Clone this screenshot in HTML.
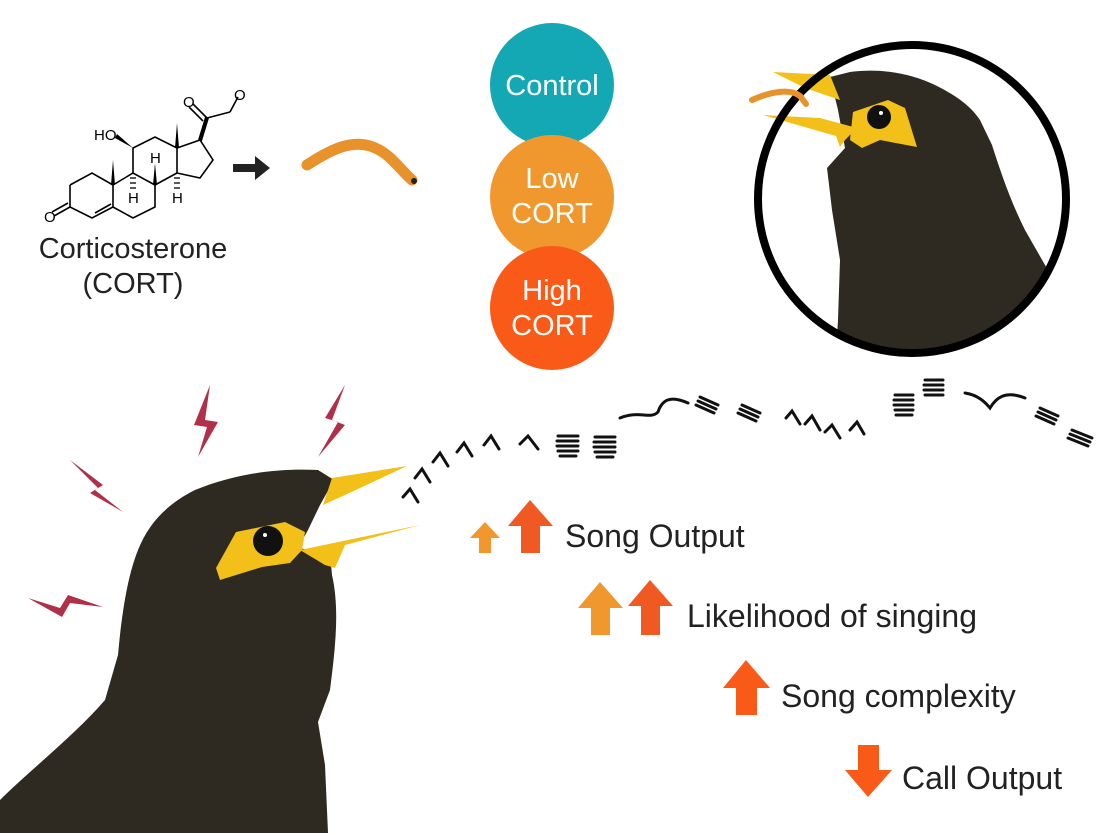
<!DOCTYPE html>
<html><head><meta charset="utf-8"><style>
html,body{margin:0;padding:0;background:#fff;}
body{width:1112px;height:833px;overflow:hidden;position:relative;font-family:"Liberation Sans",sans-serif;}
svg{position:absolute;left:0;top:0;}
</style></head><body>
<svg width="1112" height="833" viewBox="0 0 1112 833" xmlns="http://www.w3.org/2000/svg">
<defs><clipPath id="cc"><circle cx="912" cy="199" r="154"/></clipPath></defs>
<!-- molecule -->
<g stroke="#000" stroke-width="1.6" fill="none">
<polyline points="70,185 92,173 113,185 113,207 92,218 70,207 70,185"/>
<line x1="95" y1="213" x2="111" y2="204"/>
<line x1="70" y1="207" x2="54" y2="216"/><line x1="68" y1="203" x2="52" y2="212"/>
<polyline points="113,185 133,173 155,185 155,207 133,218 113,207"/>
<polyline points="133,173 133,148 155,137 177,148 177,173 155,185"/>
<polyline points="177,148 200,140 213,160 200,178 177,173"/>
<line x1="207" y1="118" x2="230" y2="112"/><line x1="230" y1="112" x2="238" y2="97"/>
<line x1="207" y1="118" x2="193" y2="104"/><line x1="203" y1="121" x2="189" y2="107"/>
</g>
<g fill="#000">
<polygon points="111,185 115,185 113,160"/>
<polygon points="175,148 179,148 177,123"/>
<polygon points="198,140 202,141 209,118 205,117"/>
<polygon points="133,148 115,138 117,134"/>
<polygon points="153,185 157,185 155,163"/>
</g>
<g stroke="#000" stroke-width="1.3">
<line x1="130" y1="178" x2="136" y2="178"/><line x1="130" y1="183" x2="136" y2="183"/><line x1="130" y1="188" x2="136" y2="188"/>
<line x1="174" y1="178" x2="180" y2="178"/><line x1="174" y1="183" x2="180" y2="183"/><line x1="174" y1="188" x2="180" y2="188"/>
</g>
<g font-size="15" fill="#000" font-family="Liberation Sans,sans-serif">
<text x="94" y="140">HO</text>
<text x="150" y="163">H</text>
<text x="128" y="203">H</text>
<text x="172" y="203">H</text>
<text x="44" y="222">O</text>
<text x="183" y="107">O</text>
<text x="234" y="100">O</text>
</g>
<text x="133" y="258" font-size="29" text-anchor="middle" fill="#222">Corticosterone</text>
<text x="133" y="293" font-size="29" text-anchor="middle" fill="#222">(CORT)</text>
<!-- black arrow -->
<polygon points="233,164 255,164 255,156 270,168 255,180 255,172 233,172" fill="#222"/>
<!-- worm -->
<path d="M307,165 C330,150 350,140 370,146 C390,152 400,170 412,180" stroke="#e8922c" stroke-width="11" fill="none" stroke-linecap="round"/>
<circle cx="414" cy="181" r="3" fill="#222"/>
<!-- circles -->
<circle cx="552" cy="85" r="62" fill="#14a8b5"/>
<circle cx="552" cy="197" r="62" fill="#f0982e"/>
<circle cx="552" cy="308" r="62" fill="#fa5a18"/>
<g fill="#fff" font-size="29" text-anchor="middle">
<text x="552" y="95">Control</text>
<text x="552" y="188">Low</text>
<text x="552" y="223">CORT</text>
<text x="552" y="300">High</text>
<text x="552" y="335">CORT</text>
</g>
<!-- top right bird -->
<g clip-path="url(#cc)">
<path d="M830,77 L850,72 C880,68 910,73 935,85 C955,95 970,105 980,120 L992,145 C1000,170 1010,200 1025,230 L1045,265 L1080,320 L1080,370 L835,370 L838,320 L840,260 L832,210 L827,168 L845,148 L838,110 Z" fill="#2e2a22"/>
</g>
<path d="M853,112 L888,100 L905,108 L917,147 L880,140 L862,148 L850,140 Z" fill="#f2c018"/>
<circle cx="879" cy="117" r="12" fill="#111"/><circle cx="881" cy="113" r="2" fill="#fff"/>
<polygon points="773,72 830,75 840,100 805,88" fill="#f2c018"/>
<polygon points="763,115 820,118 857,128 845,140 840,147 836,136 815,130" fill="#f2c018"/>
<circle cx="912" cy="199" r="154" fill="none" stroke="#000" stroke-width="8"/>
<path d="M752,100 C770,92 790,88 800,96 L806,104" stroke="#e8922c" stroke-width="6" fill="none" stroke-linecap="round"/>
<!-- big bird -->
<path d="M0,833 L0,800 C30,770 75,735 105,700 L118,655 C122,610 128,575 138,550 C148,525 165,505 195,490 C235,474 275,468 318,470 L334,480 L320,505 L308,530 L298,548 L330,553 L332,575 C340,610 335,650 330,690 L318,722 L325,765 L328,833 Z" fill="#2e2a22"/>
<polygon points="332,478 407,466 345,495 323,505" fill="#f2c018"/>
<polygon points="300,550 420,525 345,545 335,568 325,565" fill="#f2c018"/>
<path d="M236,532 L285,522 L305,532 L302,550 L290,563 L262,567 L220,580 L216,568 Z" fill="#f2c018"/>
<circle cx="268" cy="541" r="15" fill="#111"/><circle cx="265" cy="535" r="2" fill="#fff"/>
<!-- bolts -->
<g fill="#b0304a">
<polygon points="210,385 205,420 218,422 198,457 207,427 194,425"/>
<polygon points="345,385 325,418 338,422 318,457 345,425 332,420"/>
<polygon points="70,460 103,485 95,490 123,512 90,493 98,488"/>
<polygon points="28,598 60,608 68,595 103,607 70,603 62,617"/>
</g>
<!-- notes -->
<g stroke="#111" stroke-width="3" fill="none" stroke-linecap="round">
<path d="M403,497 L410,489 L418,502"/>
<path d="M415,478 L422,469 L430,482"/>
<path d="M433,462 L440,453 L448,466"/>
<path d="M457,452 L464,443 L472,456"/>
<path d="M484,445 L491,436 L499,449"/>
<path d="M520,444 L528,436 L538,449"/>
<path d="M558,436h20M557,441h21M557,446h21M558,451h20M560,456h16"/>
<path d="M595,437h20M594,442h21M594,447h21M595,452h20M597,457h16"/>
<path d="M620,418 C640,410 650,420 658,412 C662,400 670,395 688,403"/>
<path d="M700,397 l18,8M698,401 l18,8M696,405 l18,8"/>
<path d="M742,405 l18,8M740,409 l18,8M738,413 l18,8"/>
<path d="M786,418 L792,411 L800,424"/>
<path d="M805,424 L812,416 L820,430"/>
<path d="M825,432 L832,425 L840,438"/>
<path d="M850,430 L857,422 L864,434"/>
<path d="M895,395h18M894,400h19M894,405h19M895,410h18M896,415h16"/>
<path d="M925,380h18M924,385h19M924,390h19M925,395h18"/>
<path d="M965,393 C978,395 985,402 990,408 C996,398 1005,390 1025,398"/>
<path d="M1040,408 l18,8M1038,412 l18,8M1036,416 l18,8"/>
<path d="M1072,430 l20,8M1070,434 l20,8M1068,438 l20,8"/>
</g>
<!-- effect arrows -->
<polygon points="470,538 485,522 500,538 491,538 491,553 479,553 479,538" fill="#f0982e"/>
<polygon points="508,526 530,500 553,526 540,526 540,553 521,553 521,526" fill="#f05a22"/>
<polygon points="578,608 600,582 623,608 610,608 610,635 591,635 591,608" fill="#f0982e"/>
<polygon points="628,606 650,580 673,606 660,606 660,635 641,635 641,606" fill="#f05a22"/>
<polygon points="723,688 746,660 770,688 757,688 757,715 736,715 736,688" fill="#fa5a18"/>
<polygon points="845,770 868,797 892,770 879,770 879,745 858,745 858,770" fill="#fa5a18"/>
<g fill="#222" font-size="32">
<text x="565" y="547">Song Output</text>
<text x="687" y="627">Likelihood of singing</text>
<text x="781" y="707">Song complexity</text>
<text x="902" y="789">Call Output</text>
</g>
</svg>
</body></html>
